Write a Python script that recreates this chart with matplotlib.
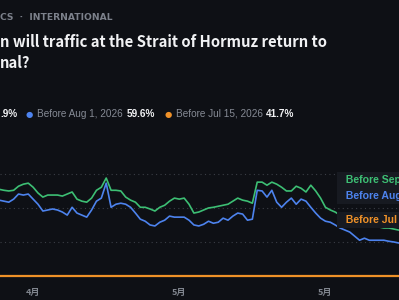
import matplotlib
matplotlib.use("Agg")
import matplotlib.pyplot as plt
import matplotlib.dates as mdates
import pandas as pd

plt.rcParams['font.family'] = ['Liberation Sans Narrow', 'Noto Sans CJK SC', 'DejaVu Sans']

# datos (porcentaje), un punto por dia
dates = pd.date_range('2026-03-25', periods=83, freq='D')
sep_vals = [25.4, 25.1, 24.9, 25.1, 26.3, 26.9, 27.2, 26.0, 24.3, 23.1,
            23.7, 23.7, 23.7, 23.4, 24.0, 24.6, 22.5, 21.9, 21.6, 22.8,
            25.1, 26.0, 28.7, 25.1, 25.1, 24.9, 23.1, 22.2, 21.6, 20.1,
            20.1, 19.6, 19.0, 20.1, 20.7, 21.9, 22.8, 22.5, 22.8, 21.0,
            18.4, 18.7, 19.3, 19.9, 20.1, 20.4, 20.7, 21.0, 21.9, 22.8,
            22.2, 21.9, 21.3, 27.5, 27.5, 26.6, 27.5, 26.9, 26.0, 24.9,
            24.9, 26.3, 25.7, 24.6, 26.6, 24.9, 22.8, 20.1, 19.3, 18.7,
            17.8, 16.6, 15.7, 15.1, 14.9, 14.9, 14.9, 14.6, 14.3, 14.0,
            14.0, 13.7, 13.4]
aug_vals = [22.2, 21.9, 21.6, 22.5, 24.0, 23.7, 24.0, 22.5, 21.0, 19.0,
            19.3, 19.6, 19.3, 18.7, 17.8, 20.1, 18.4, 17.8, 17.2, 19.3,
            21.9, 22.8, 27.2, 20.1, 21.0, 21.3, 21.0, 20.1, 18.4, 16.6,
            16.0, 14.9, 14.6, 15.7, 16.3, 17.5, 17.2, 17.2, 17.2, 16.3,
            14.9, 14.6, 15.1, 16.0, 15.4, 15.7, 16.9, 16.3, 17.5, 18.4,
            18.1, 16.3, 16.6, 25.1, 24.9, 23.1, 25.1, 21.6, 20.1, 21.6,
            22.8, 21.0, 22.5, 21.9, 20.1, 18.4, 16.9, 16.0, 15.7, 14.9,
            14.0, 13.4, 12.8, 11.6, 10.4, 11.0, 10.4, 10.4, 10.4, 10.4,
            10.1, 9.9, 9.6]
jul_vals = [0.0] * 83

series_names = ['Before Sep', 'Before Aug', 'Before Jul 1']
legend_names = ['Before Aug 1, 2026', 'Before Jul 15, 2026']
legend_values = ['59.6%', '41.7%']
sep_legend_value = '.9%'
tick_dates = ['2026-04-01', '2026-05-01', '2026-05-31']

bg = '#0e1015'
green = '#3dbf74'
blue = '#4d83ee'
orange = '#ef9128'
sans = ['Liberation Sans', 'DejaVu Sans']

fig = plt.figure(figsize=(3.99, 3.0), dpi=100, facecolor=bg)
ax = fig.add_axes([0, 20 / 300, 1, 140 / 300], facecolor=bg)

ax.plot(dates, jul_vals, color=orange, lw=1.6, zorder=3)
ax.plot(dates, sep_vals, color=green, lw=1.2, zorder=4)
ax.plot(dates, aug_vals, color=blue, lw=1.2, zorder=5)

start = dates[0]
ax.set_xlim(start + pd.Timedelta(days=0.2), start + pd.Timedelta(days=82.1))
ax.set_ylim(-1.3, 39.9)
ax.set_yticks([10, 20, 30])
ax.yaxis.grid(True, color='#3b3e46', lw=0.8, ls=(0, (1, 3)))
ax.tick_params(axis='y', length=0, labelleft=False)
ax.set_xticks(pd.to_datetime(tick_dates))
ax.xaxis.set_major_formatter(mdates.DateFormatter('%-m月'))
ax.tick_params(axis='x', length=0, colors='#80858e', labelsize=6.5, pad=6)
for lab in ax.get_xticklabels():
    lab.set_fontweight('bold')
    lab.set_family(['Noto Sans CJK SC', 'DejaVu Sans'])
for s in ax.spines.values():
    s.set_visible(False)

# etiquetas al final de las lineas
for name, col, ypx in zip(series_names, [green, blue, orange], [180, 196, 220]):
    fig.text(340 / 399, 1 - ypx / 300, '  ' + name, color=col, fontsize=7.6,
             fontweight='bold', va='center', ha='left', family=sans, zorder=10,
             bbox=dict(boxstyle='square,pad=0.3', fc='#171a21', ec='none'))

# cabecera
fig.text(0, 1 - 18 / 300, 'CS  ·  INTERNATIONAL', color='#7c818b', fontsize=6.6,
         fontweight='bold', va='center', ha='left', family=['DejaVu Sans'])
fig.text(0, 1 - 42 / 300, 'n will traffic at the Strait of Hormuz return to',
         color='#f1f2f4', fontsize=10.7, fontweight='bold', va='center', ha='left')
fig.text(0, 1 - 63 / 300, 'nal?', color='#f1f2f4', fontsize=10.7,
         fontweight='bold', va='center', ha='left')

# leyenda
ly = 1 - 114 / 300
fig.text(0, ly, sep_legend_value, color='#f1f2f4', fontsize=7.2, fontweight='bold',
         va='center', family=sans)
leg_x = [[29, 37, 127], [168, 176, 266]]
for (dx, tx, vx), nm, val, col in zip(leg_x, legend_names, legend_values, [blue, orange]):
    fig.text(dx / 399, ly, '●', color=col, fontsize=6, va='center', ha='center',
             family=['DejaVu Sans'])
    fig.text(tx / 399, ly, nm, color='#868b95', fontsize=7.2, va='center', family=sans)
    fig.text(vx / 399, ly, val, color='#f1f2f4', fontsize=7.2, fontweight='bold',
             va='center', family=sans)

fig.savefig('out.png', dpi=100, facecolor=bg)
